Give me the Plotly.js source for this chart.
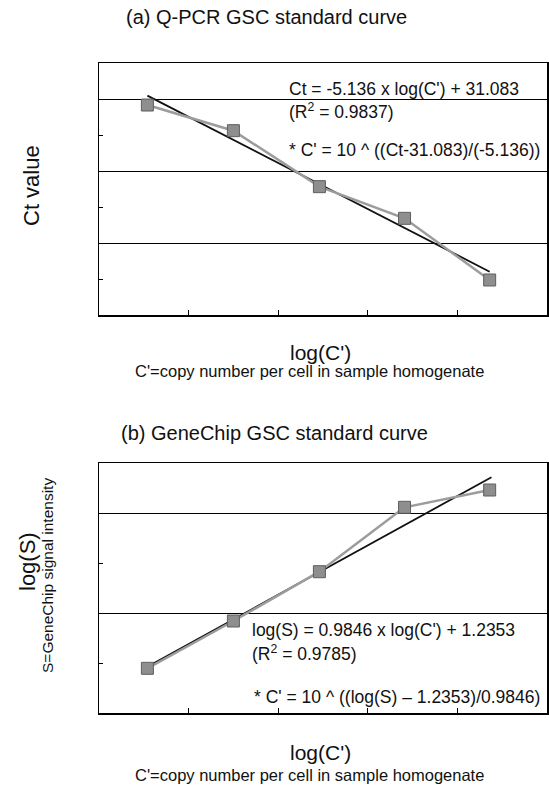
<!DOCTYPE html>
<html>
<head>
<meta charset="utf-8">
<script src="https://cdn.plot.ly/plotly-3.0.1.min.js"></script>
<style>html,body{margin:0;padding:0;background:#fff;}#chart{width:549px;height:792px;}</style>
</head>
<body>
<div id="chart"></div>
<script>
// ---- data ----
// x = log(C') (same dilution points in both panels)
const logC = [0.54, 1.50, 2.46, 3.41, 4.36];
// (a) Q-PCR Ct values
const ctValues = [27.33, 24.48, 18.26, 14.74, 7.89];
// (a) fitted trendline end points
const ctTrendX = [0.54, 4.36];
const ctTrendY = [28.37, 8.81];
// (b) GeneChip log(S) values
const logS = [1.894, 2.84, 3.826, 5.114, 5.46];
// (b) fitted trendline end points
const sTrendX = [0.54, 4.38];
const sTrendY = [1.926, 5.714];
// axis ticks (no labels shown)
const xTicks = [1, 2, 3, 4];
const ctMajor = [12, 20, 28];
const ctMinor = [8, 16, 24];
const sMajor = [3, 5];
const sMinor = [2, 4];

const W = 549, H = 792;
const px = v => v / W;
const py = v => 1 - v / H;

const font = "Liberation Sans, Arial, Helvetica, sans-serif";
const dataLine = {color: '#9c9c9c', width: 2.5};
const marker = {symbol: 'square', size: 12, color: '#8e8e8e', line: {color: '#5e5e5e', width: 1}};
const trendLine = {color: '#111', width: 1.8};

const traces = [
  {x: ctTrendX, y: ctTrendY, mode: 'lines', line: trendLine, xaxis: 'x', yaxis: 'y', hoverinfo: 'skip'},
  {x: logC, y: ctValues, mode: 'lines+markers', line: dataLine, marker: marker, xaxis: 'x', yaxis: 'y'},
  {x: sTrendX, y: sTrendY, mode: 'lines', line: trendLine, xaxis: 'x2', yaxis: 'y2', hoverinfo: 'skip'},
  {x: logC, y: logS, mode: 'lines+markers', line: dataLine, marker: marker, xaxis: 'x2', yaxis: 'y2'}
];

function xAx(anchor) {
  return {
    domain: [px(99), px(547)], range: [0, 5], anchor: anchor,
    showline: true, mirror: true, linecolor: '#000', linewidth: 1.5,
    ticks: 'inside', ticklen: 5, tickcolor: '#000', tickwidth: 1,
    tickmode: 'array', tickvals: xTicks, showticklabels: false,
    showgrid: false, zeroline: false
  };
}
function yAx(anchor, dom, rng, major, minor) {
  return {
    domain: dom, range: rng, anchor: anchor,
    showline: true, mirror: true, linecolor: '#000', linewidth: 1.5,
    ticks: 'inside', ticklen: 4, tickcolor: '#000', tickwidth: 1,
    tickmode: 'array', tickvals: major, showticklabels: false,
    showgrid: true, gridcolor: '#000', gridwidth: 1, zeroline: false,
    minor: {tickmode: 'array', tickvals: minor, ticks: 'inside', ticklen: 4, tickcolor: '#000', showgrid: false}
  };
}

function ann(text, x, y, size, opts) {
  return Object.assign({text: text, x: px(x), y: py(y), xref: 'paper', yref: 'paper',
    showarrow: false, font: {family: font, size: size, color: '#111'},
    xanchor: 'center', yanchor: 'middle'}, opts || {});
}

const annotations = [
  ann('(a) Q-PCR GSC standard curve', 266, 17, 20),
  ann('Ct value', 31, 186, 22, {textangle: -90}),
  ann("log(C')", 320, 352, 21),
  ann("C'=copy number per cell in sample homogenate", 309, 371, 16.5),
  ann("Ct = -5.136 x log(C') + 31.083", 287, 89, 17.5, {xanchor: 'left'}),
  ann("(R<sup>2</sup> = 0.9837)", 287, 111, 17.5, {xanchor: 'left'}),
  ann("* C' = 10 ^ ((Ct-31.083)/(-5.136))", 287, 150, 17.5, {xanchor: 'left'}),

  ann('(b) GeneChip GSC standard curve', 274, 433, 20),
  ann('log(S)', 27, 562, 22, {textangle: -90}),
  ann('S=GeneChip signal intensity', 47, 576, 15.5, {textangle: -90}),
  ann("log(C')", 320, 752, 21),
  ann("C'=copy number per cell in sample homogenate", 309, 775, 16.5),
  ann("log(S) = 0.9846 x log(C') + 1.2353", 250, 630, 17.5, {xanchor: 'left'}),
  ann("(R<sup>2</sup> = 0.9785)", 250, 653, 17.5, {xanchor: 'left'}),
  ann("* C' = 10 ^ ((log(S) \u2013 1.2353)/0.9846)", 252, 697, 17.5, {xanchor: 'left'})
];

const layout = {
  width: W, height: H,
  margin: {l: 0, r: 0, t: 0, b: 0},
  paper_bgcolor: '#fff', plot_bgcolor: '#fff',
  showlegend: false,
  font: {family: font, color: '#111'},
  xaxis: xAx('y'),
  yaxis: yAx('x', [py(315), py(63)], [4, 32], ctMajor, ctMinor),
  xaxis2: xAx('y2'),
  yaxis2: yAx('x2', [py(713), py(463)], [1, 6], sMajor, sMinor),
  annotations: annotations
};

Plotly.newPlot('chart', traces, layout, {staticPlot: true, displayModeBar: false});
</script>
</body>
</html>
